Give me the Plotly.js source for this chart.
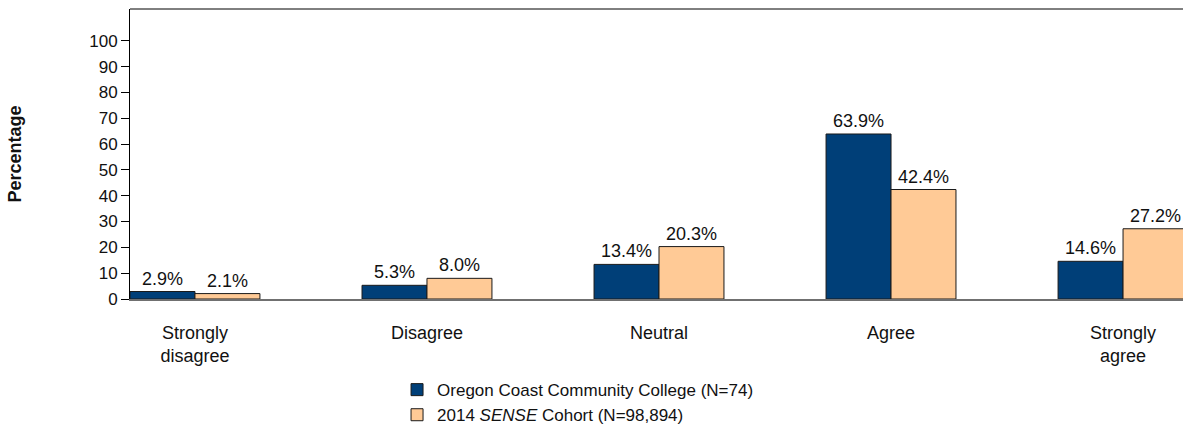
<!DOCTYPE html>
<html>
<head>
<meta charset="utf-8">
<script src="https://cdn.plot.ly/plotly-3.0.1.min.js"></script>
<style>
html, body { margin: 0; padding: 0; background: #fff; overflow: hidden; }
#chart { width: 1190px; height: 428px; }
</style>
</head>
<body>
<div id="chart"></div>
<script>
const categories = ["Strongly<br>disagree", "Disagree", "Neutral", "Agree", "Strongly<br>agree"];
const collegeName = "Oregon Coast Community College (N=74)";
const cohortName = "2014 <i>SENSE</i> Cohort (N=98,894)";
const collegeValues = [2.9, 5.3, 13.4, 63.9, 14.6];
const cohortValues = [2.1, 8.0, 20.3, 42.4, 27.2];
const yTickValues = [0, 10, 20, 30, 40, 50, 60, 70, 80, 90, 100];

const FONT = "Liberation Sans, Arial, Helvetica, sans-serif";

const traces = [
  {
    type: "bar",
    name: collegeName,
    x: categories,
    y: collegeValues,
    marker: { color: "#003F78", line: { color: "#1a1a1a", width: 1 } },
    texttemplate: "%{y:.1f}%",
    textposition: "outside",
    cliponaxis: false,
    textfont: { family: FONT, size: 18, color: "#111" },
    hoverinfo: "skip"
  },
  {
    type: "bar",
    name: cohortName,
    x: categories,
    y: cohortValues,
    marker: { color: "#FFCA96", line: { color: "#1a1a1a", width: 1 } },
    texttemplate: "%{y:.1f}%",
    textposition: "outside",
    cliponaxis: false,
    textfont: { family: FONT, size: 18, color: "#111" },
    hoverinfo: "skip"
  }
];

const layout = {
  width: 1190,
  height: 428,
  margin: { l: 130, r: 2, t: 9, b: 129, autoexpand: false },
  paper_bgcolor: "#ffffff",
  plot_bgcolor: "#ffffff",
  font: { family: FONT, color: "#111" },
  barmode: "group",
  bargap: 0.44,
  bargroupgap: 0,
  showlegend: true,
  legend: {
    orientation: "v",
    x: 0.2524,
    xanchor: "left",
    y: -0.252,
    yanchor: "top",
    font: { family: FONT, size: 17, color: "#111" },
    traceorder: "normal",
    bgcolor: "rgba(0,0,0,0)"
  },
  xaxis: {
    type: "category",
    range: [-0.28, 4.28],
    showline: true,
    linecolor: "#707070",
    linewidth: 2,
    ticks: "",
    showgrid: false,
    zeroline: false,
    tickfont: { family: FONT, size: 18, color: "#111" },
    ticklabelstandoff: 16,
    fixedrange: true
  },
  yaxis: {
    range: [0, 112.3],
    tickvals: yTickValues,
    ticktext: yTickValues.map(String),
    showline: true,
    linecolor: "#000",
    linewidth: 1,
    ticks: "outside",
    ticklen: 8,
    tickcolor: "#000",
    showgrid: false,
    zeroline: false,
    tickfont: { family: FONT, size: 17, color: "#111" },
    title: { text: "<b>Percentage</b>", font: { family: FONT, size: 18, color: "#111" }, standoff: 62 },
    fixedrange: true
  },
  shapes: [
    { type: "line", xref: "paper", yref: "paper", x0: 0, x1: 1, y0: 1, y1: 1, line: { color: "#000", width: 1 } }
  ]
};

Plotly.newPlot("chart", traces, layout, { displayModeBar: false, staticPlot: true });
</script>
</body>
</html>
